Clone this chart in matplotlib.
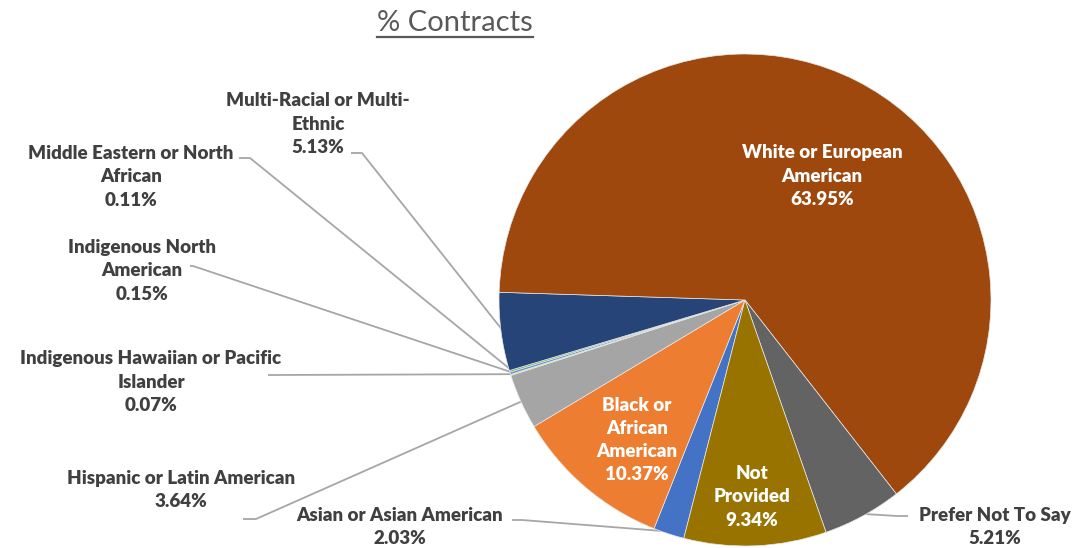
import matplotlib
matplotlib.use("Agg")
import matplotlib.pyplot as plt
import numpy as np

# ---- data ----
categories = ["Asian or Asian American", "Black or African American", "Hispanic or Latin American",
              "Indigenous Hawaiian or Pacific Islander", "Indigenous North American",
              "Middle Eastern or North African", "Multi-Racial or Multi-Ethnic",
              "White or European American", "Prefer Not To Say", "Not Provided"]
values = [2.03, 10.37, 3.64, 0.07, 0.15, 0.11, 5.13, 63.95, 5.21, 9.34]
label_names = ["Asian or Asian American", "Black or\nAfrican\nAmerican", "Hispanic or Latin American",
               "Indigenous Hawaiian or Pacific\nIslander", "Indigenous North\nAmerican",
               "Middle Eastern or North\nAfrican", "Multi-Racial or Multi-\nEthnic",
               "White or European\nAmerican", "Prefer Not To Say", "Not\nProvided"]
colors = ["#4472C4", "#ED7D31", "#A5A5A5", "#FFC000", "#5B9BD5", "#70AD47",
          "#264478", "#9E480E", "#636363", "#997300"]
title = "% Contracts"

W, H = 1074, 548
fig = plt.figure(figsize=(W / 100, H / 100), dpi=100)
ax = fig.add_axes([0, 0, 1, 1])

cx, cy, R = 745, H - 300, 246
wedges, _ = ax.pie(values, colors=colors, startangle=-104.4, counterclock=False,
                   center=(cx, cy), radius=R,
                   wedgeprops=dict(edgecolor="#E8E8E8", linewidth=0.5))
ax.set_xlim(0, W)
ax.set_ylim(0, H)
ax.set_aspect("auto")
ax.axis("off")

font = ["Lato", "DejaVu Sans"]
fs = 13.5
ls = 1.45

# layout: (label centre px, inside?, attach px, elbow px)
layout = {
    0: ((400, 527), False, (512, 520), (522, 520)),
    1: ((637, 440), True, None, None),
    2: ((181, 490), False, (243, 519), (256, 519)),
    3: ((151, 382), False, (268, 375), (272, 375)),
    4: ((142, 271), False, (190, 266), (193, 266)),
    5: ((131, 177), False, (239, 158), (250, 158)),
    6: ((318, 124), False, (351, 153), (362, 153)),
    7: ((822, 176), True, None, None),
    8: ((995, 527), False, (908, 516), (897, 516)),
    9: ((752, 497), True, None, None),
}

for i, w in enumerate(wedges):
    (lx, ly), inside, attach, elbow = layout[i]
    txt = f"{label_names[i]}\n{values[i]:.2f}%"
    ax.text(lx, H - ly, txt, ha="center", va="center", fontsize=fs, fontweight="heavy",
            family=font, color="white" if inside else "#404040", linespacing=ls)
    if not inside:
        mid = np.deg2rad((w.theta1 + w.theta2) / 2)
        px = cx + R * 0.99 * np.cos(mid)
        py = cy + R * 0.99 * np.sin(mid)
        ax.plot([attach[0], elbow[0], px], [H - attach[1], H - elbow[1], py],
                color="#A6A6A6", lw=1.3, solid_capstyle="butt", zorder=0.5)

t = ax.text(455, H - 23, title, ha="center", va="center", fontsize=21,
            family=font, color="#595959")
fig.canvas.draw()
bb = t.get_window_extent(renderer=fig.canvas.get_renderer())
ax.plot([bb.x0, bb.x1], [H - 37, H - 37], color="#595959", lw=1.6)

fig.savefig("out.png", dpi=100)
